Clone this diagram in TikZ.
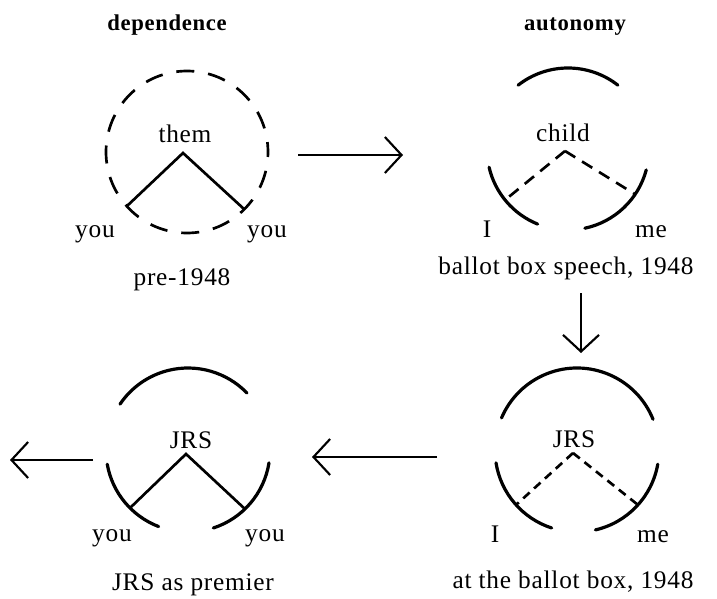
\documentclass[tikz,border=0pt]{standalone}
\usepackage{fontspec}
\setmainfont{Liberation Serif}[LetterSpace=3]
\usetikzlibrary{arrows.meta}
\begin{document}
\begin{tikzpicture}[x=0.75pt,y=-0.75pt,
 lbl/.style={anchor=base,inner sep=0pt,font=\fontsize{19}{22}\selectfont},
 ttl/.style={anchor=base,inner sep=0pt,font=\fontsize{17}{20}\selectfont\bfseries},
 arcline/.style={line width=2.4pt,line cap=round},
 vline/.style={line width=2pt},
 dvlineA/.style={line width=2pt,dash pattern=on 9pt off 6pt},
 dvlineB/.style={line width=2pt,dash pattern=on 6.5pt off 4.5pt},
 dcirc/.style={line width=2pt,dash pattern=on 13.5pt off 10.5pt,dash phase=9.75pt},
 arr/.style={line width=0.8pt,-{Straight Barb[length=12.5pt,width=27pt,line width=1.6pt]}}]
\useasboundingbox (0,0) rectangle (717,599);

% titles
\node[ttl] (t1) at (167,31) {dependence};
\node[ttl] (t2) at (575,31) {autonomy};

% ---------- panel 1: dependence ----------
\coordinate (c1) at (187,152);
\draw[dcirc] (c1) circle[radius=81];
\coordinate (p1) at (183,153);
\coordinate (l1) at ([shift={(-222:81)}]c1);
\coordinate (r1) at ([shift={(-315:81)}]c1);
\draw[vline,line join=miter] (l1) -- (p1) -- (r1);
\node[lbl] (them) at (185,143) {them};
\node[lbl] (you1) at (95,237) {you};
\node[lbl] (you2) at (267,237) {you};
\node[lbl] (cap1) at (182,285) {pre-1948};

% ---------- panel 2: ballot box speech ----------
\coordinate (c2) at (568,149);
\draw[arcline] ([shift={(-52:81)}]c2) arc[start angle=-52,end angle=-128,radius=81];
\draw[arcline] ([shift={(-193:81)}]c2) arc[start angle=-193,end angle=-248,radius=81];
\draw[arcline] ([shift={(-282:81)}]c2) arc[start angle=-282,end angle=-345,radius=81];
\coordinate (p2) at (565,151);
\coordinate (l2) at ([shift={(-219:81)}]c2);
\coordinate (r2) at ([shift={(-326:81)}]c2);
\draw[dvlineA] (p2) -- (l2);
\draw[dvlineA] (p2) -- (r2);
\node[lbl] (child) at (563,142) {child};
\node[lbl] (i2) at (487,237) {I};
\node[lbl] (me2) at (651,237) {me};
\node[lbl] (cap2) at (566,274) {ballot box speech, 1948};

% ---------- panel 4: at the ballot box ----------
\coordinate (c4) at (577,450);
\draw[arcline] ([shift={(-22:82)}]c4) arc[start angle=-22,end angle=-157,radius=82];
\draw[arcline] ([shift={(-189:82)}]c4) arc[start angle=-189,end angle=-252,radius=82];
\draw[arcline] ([shift={(-283:82)}]c4) arc[start angle=-283,end angle=-350,radius=82];
\coordinate (p4) at (573,453);
\coordinate (l4) at ([shift={(-222:82)}]c4);
\coordinate (r4) at ([shift={(-318:82)}]c4);
\draw[dvlineB] (p4) -- (l4);
\draw[dvlineB] (p4) -- (r4);
\node[lbl] (jrs4) at (574,447) {JRS};
\node[lbl] (i4) at (495,542) {I};
\node[lbl] (me4) at (653,542) {me};
\node[lbl] (cap4) at (573,588) {at the ballot box, 1948};

% ---------- panel 3: JRS as premier ----------
\coordinate (c3) at (188,450);
\draw[arcline] ([shift={(-44:82)}]c3) arc[start angle=-44,end angle=-146,radius=82];
\draw[arcline] ([shift={(-190:82)}]c3) arc[start angle=-190,end angle=-249,radius=82];
\draw[arcline] ([shift={(-288:82)}]c3) arc[start angle=-288,end angle=-351,radius=82];
\coordinate (p3) at (186,454);
\coordinate (l3) at ([shift={(-225:82)}]c3);
\coordinate (r3) at ([shift={(-314:82)}]c3);
\draw[vline,line join=miter] (l3) -- (p3) -- (r3);
\node[lbl] (jrs3) at (191,448) {JRS};
\node[lbl] (you3) at (112,541) {you};
\node[lbl] (you4) at (265,541) {you};
\node[lbl] (cap3) at (193,590) {JRS as premier};

% ---------- arrows ----------
\coordinate (a1s) at (298,155);
\coordinate (a1e) at (403,155);
\coordinate (a2s) at (581,293);
\coordinate (a2e) at (581,353);
\coordinate (a3s) at (437,457);
\coordinate (a3e) at (312,457);
\coordinate (a4s) at (93,460);
\coordinate (a4e) at (10,460);
\draw[arr] (a1s) -- (a1e);
\draw[arr] (a2s) -- (a2e);
\draw[arr] (a3s) -- (a3e);
\draw[arr] (a4s) -- (a4e);
\end{tikzpicture}
\end{document}
